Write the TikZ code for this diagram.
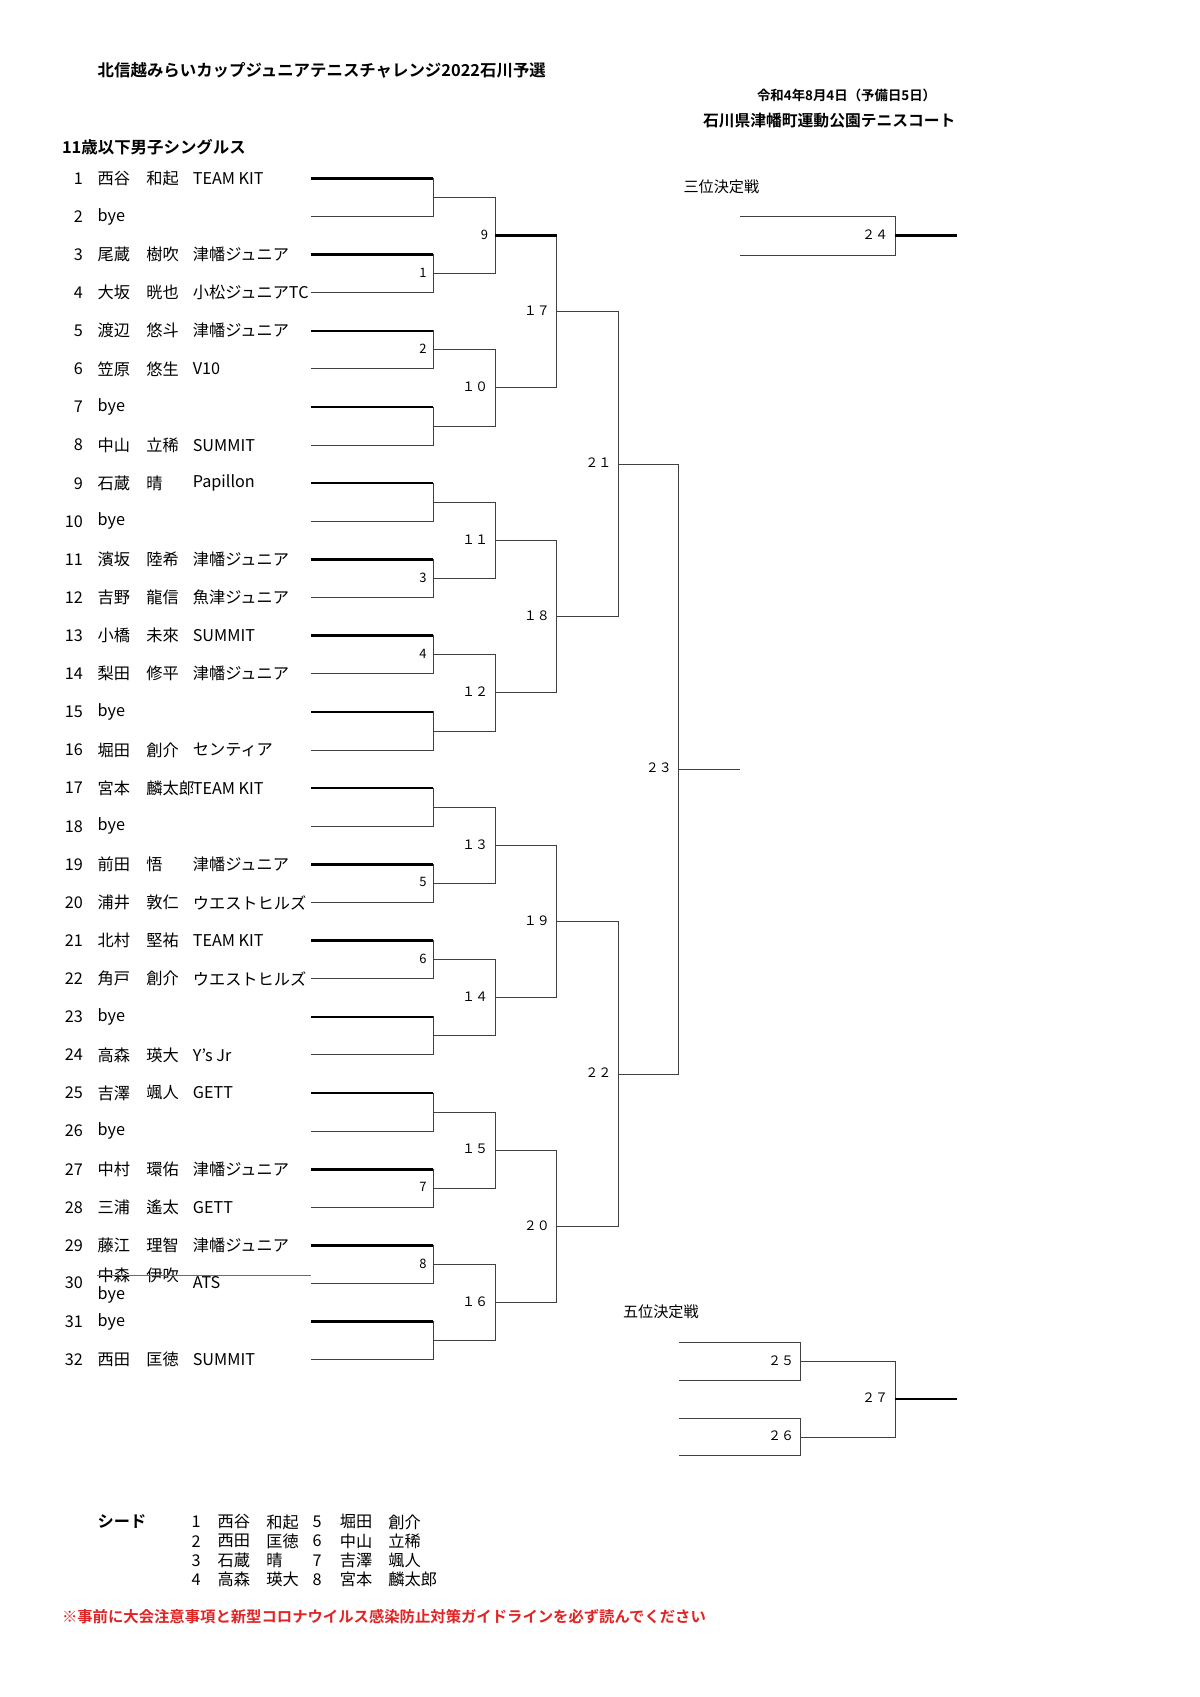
\documentclass[tikz,border=0pt]{standalone}
\usepackage{fontspec}
\setmainfont{Noto Sans CJK JP}[BoldFont={* Bold}]
\usetikzlibrary{positioning}
\definecolor{notered}{RGB}{225,35,35}
\definecolor{strikered}{RGB}{190,70,70}

\begin{document}
\begin{tikzpicture}[x=0.5pt, y=-0.5pt,
  txt/.style={anchor=west, inner sep=0pt, font=\fontsize{7.5}{9}\selectfont},
  head/.style={txt, font=\bfseries\fontsize{7.6}{9}\selectfont},
  num/.style={anchor=east, inner sep=0pt, font=\fontsize{7.5}{9}\selectfont},
  lbl/.style={anchor=east, inner sep=0pt, xshift=-3pt, yshift=0.5pt, font=\fontsize{6}{7}\selectfont},
  line/.style={draw=black!75, line width=0.45pt},
  win/.style={draw=black, line width=1.15pt}]
\useasboundingbox (0,0) rectangle (1110,1570);

\node[head] (title) at (90,65) {北信越みらいカップジュニアテニスチャレンジ2022石川予選};
\node[head, font=\bfseries\fontsize{6.2}{7}\selectfont] (date) at (700,88) {令和4年8月4日（予備日5日）};
\node[head, font=\bfseries\fontsize{7.3}{9}\selectfont] (venue) at (650,112) {石川県津幡町運動公園テニスコート};
\node[head] (event) at (57,136) {11歳以下男子シングルス};

\foreach \i/\sn/\gn/\club in {1/西谷/和起/TEAM KIT, 2/bye//, 3/尾蔵/樹吹/津幡ジュニア,
  4/大坂/晄也/小松ジュニアTC, 5/渡辺/悠斗/津幡ジュニア, 6/笠原/悠生/V10, 7/bye//,
  8/中山/立稀/SUMMIT, 9/石蔵/晴/Papillon, 10/bye//, 11/濱坂/陸希/津幡ジュニア,
  12/吉野/龍信/魚津ジュニア, 13/小橋/未來/SUMMIT, 14/梨田/修平/津幡ジュニア, 15/bye//,
  16/堀田/創介/センティア, 17/宮本/麟太郎/TEAM KIT, 18/bye//, 19/前田/悟/津幡ジュニア,
  20/浦井/敦仁/ウエストヒルズ, 21/北村/堅祐/TEAM KIT, 22/角戸/創介/ウエストヒルズ,
  23/bye//, 24/高森/瑛大/Y's Jr, 25/吉澤/颯人/GETT, 26/bye//, 27/中村/環佑/津幡ジュニア,
  28/三浦/遙太/GETT, 29/藤江/理智/津幡ジュニア, 31/bye//, 32/西田/匡徳/SUMMIT} {
  \pgfmathsetmacro\py{165+(\i-1)*35.26}
  \node[num] (no\i) at (77,\py) {\i};
  \node[txt] (sn\i) at (90,\py) {\sn};
  \node[txt] (gn\i) at (135,\py) {\gn};
  \node[txt, fill=white] (cl\i) at (178,\py) {\club};
  \coordinate (p\i) at (288,\py);
}
\node[num] (no30) at (77,1187) {30};
\node[txt] (sn30) at (90,1180) {中森};
\node[txt] (gn30) at (135,1180) {伊吹};
\node[txt] (bye30) at (90,1198) {bye};
\node[txt] (cl30) at (178,1187) {ATS};
\coordinate (p30) at (288,{165+29*35.26});
\coordinate (x30) at (288,1180);
\draw[strikered, line width=0.5pt] (sn30.west) -- (x30);

\foreach \cur/\prev/\xx/\g/\n in {a/p/401/2/16, b/a/458/4/8, c/b/515/8/4, d/c/572/16/2, e/d/628/32/1} {
  \foreach \k in {1,...,\n} {
    \pgfmathsetmacro\jy{165+(\g*\k-(\g+1)/2)*35.26}
    \pgfmathtruncatemacro\u{2*\k-1}
    \pgfmathtruncatemacro\v{2*\k}
    \coordinate (\cur\k) at (\xx,\jy);
    \draw[line] (\prev\u) -| (\cur\k) |- (\prev\v);
  }
}
\foreach \u in {1,3,...,31}
  \draw[win] (p\u) -- (p\u -| a1);
\draw[win] (b1) -- (b1 -| c1);
\coordinate (fin) at (685,{165+15.5*35.26});
\draw[line] (e1) -- (fin);

\foreach \k/\t in {2/1, 3/2, 6/3, 7/4, 10/5, 11/6, 14/7, 15/8}
  \node[lbl] (la\k) at (a\k) {\t};
\foreach \k/\t in {1/9, 2/１０, 3/１１, 4/１２, 5/１３, 6/１４, 7/１５, 8/１６}
  \node[lbl] (lb\k) at (b\k) {\t};
\foreach \k/\t in {1/１７, 2/１８, 3/１９, 4/２０}
  \node[lbl] (lc\k) at (c\k) {\t};
\node[lbl] (ld1) at (d1) {２１};
\node[lbl] (ld2) at (d2) {２２};
\node[lbl] (le1) at (e1) {２３};

\node[txt, font=\fontsize{7}{8}\selectfont] (third) at (632,173) {三位決定戦};
\coordinate (t1) at (685,200);
\coordinate (t2) at (685,236);
\coordinate (tj) at (828,218);
\coordinate (tw) at (885,218);
\draw[line] (t1) -| (tj) |- (t2);
\draw[win] (tj) -- (tw);
\node[lbl] (l24) at (tj) {２４};

\node[txt, font=\fontsize{7}{8}\selectfont] (fifth) at (576,1214) {五位決定戦};
\coordinate (f1) at (628,1242);
\coordinate (f2) at (628,1277);
\coordinate (f3) at (628,1312);
\coordinate (f4) at (628,1347);
\coordinate (fa) at (741,1259.5);
\coordinate (fb) at (741,1329.5);
\coordinate (fc) at (828,1294.5);
\coordinate (fw) at (885,1294.5);
\draw[line] (f1) -| (fa) |- (f2);
\draw[line] (f3) -| (fb) |- (f4);
\draw[line] (fa) -| (fc) |- (fb);
\draw[win] (fc) -- (fw);
\node[lbl] (l25) at (fa) {２５};
\node[lbl] (l26) at (fb) {２６};
\node[lbl] (l27) at (fc) {２７};

\node[head, font=\bfseries\fontsize{7.5}{9}\selectfont] (seed) at (90,1408) {シード};
\foreach \r/\a/\sa/\ga/\b/\sb/\gb in {0/1/西谷/和起/5/堀田/創介, 1/2/西田/匡徳/6/中山/立稀,
  2/3/石蔵/晴/7/吉澤/颯人, 3/4/高森/瑛大/8/宮本/麟太郎} {
  \pgfmathsetmacro\sy{1408+\r*17.8}
  \node[num] (sa\r) at (186,\sy) {\a};
  \node[txt] (ssa\r) at (201,\sy) {\sa};
  \node[txt] (sga\r) at (246,\sy) {\ga};
  \node[num] (sb\r) at (298,\sy) {\b};
  \node[txt] (ssb\r) at (314,\sy) {\sb};
  \node[txt] (sgb\r) at (359,\sy) {\gb};
}

\node[head, text=notered, font=\bfseries\fontsize{7.1}{9}\selectfont] (note) at (57,1496) {※事前に大会注意事項と新型コロナウイルス感染防止対策ガイドラインを必ず読んでください};
\end{tikzpicture}
\end{document}
